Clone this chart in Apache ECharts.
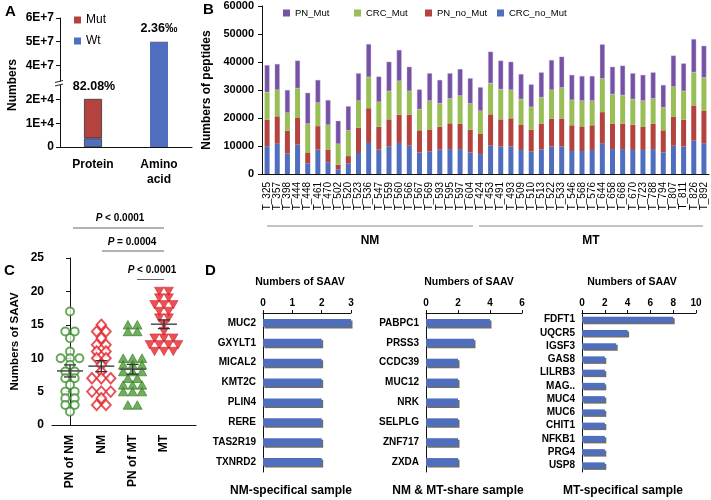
<!DOCTYPE html>
<html><head><meta charset="utf-8">
<script src="https://cdn.jsdelivr.net/npm/echarts@6/dist/echarts.min.js"></script>
<style>html,body{margin:0;padding:0;background:#fff}#c{width:711px;height:500px}</style>
</head><body><div id="c"></div>
<script>
// ---------- Panel A ----------
const aCategories = ['Protein', 'Amino\nacid'];
const aWt = [3640, 49880000];
const aMut = [16650, 118000];
const aTicksUpper = [40000000, 50000000, 60000000];
const aTicksLower = [0, 10000, 20000];
// ---------- Panel B ----------
const bSamples = ['T_325','T_357','T_398','T_444','T_448','T_461','T_470','T_502','T_520','T_523','T_536','T_547','T_559','T_560','T_566','T_567','T_569','T_593','T_595','T_597','T_604',
  'T_424','T_453','T_491','T_493','T_509','T_510','T_513','T_522','T_533','T_546','T_568','T_576','T_644','T_658','T_668','T_670','T_723','T_788','T_794','T_807','T_811','T_826','T_892'];
const bCRCnoMut = [9900,10800,7300,10500,3800,8700,4200,1700,3700,7500,11100,8700,9900,11100,10100,7700,8000,8700,8900,8900,7700,
  7100,10100,9800,9800,8600,8000,8800,9800,9800,8200,8200,8600,11000,8900,8900,8600,8600,8900,7700,10100,9800,11900,11000];
const bPNnoMut = [9500,9800,8200,9500,3700,8400,4400,1600,2700,9000,12400,8200,9600,10100,11100,7900,7900,8200,9200,9000,8100,
  7200,11200,9700,10100,8900,7800,9200,10000,10000,9200,8800,8800,11100,9100,9100,9000,8200,9100,7900,10300,9600,12400,11500];
const bCRCMut = [9800,9400,6300,10600,10400,8300,8900,7400,9100,9600,11100,8800,10100,12000,8400,7500,10200,8300,8800,10000,9300,
  8200,11100,10700,10100,9200,8100,9300,10200,11000,9000,9100,8700,11900,10500,10100,9100,9300,8900,8100,10700,10200,12000,11900];
const bPNMut = [9700,9300,8200,9900,11100,8200,8900,8300,8700,9900,11800,9100,10500,11100,8700,7100,9900,8400,9100,9600,9100,
  8500,11300,10300,10100,9000,8100,9000,10700,11100,9000,8900,8900,12300,9800,10600,9300,9300,9400,8100,11200,9900,11900,11400];
// ---------- Panel C ----------
const cGroups = ['PN of NM','NM','PN of MT','MT'];
const cPNofNM = [17,14,14,13,11,10,10,10,9,8,8,7,7,6,5,5,4,4,3,3,2];
const cNM = [15,14,14,13,12,12,11,11,10,10,9,8,7,7,7,5,5,5,4,3,3];
const cPNofMT = [15,15,14,14,10,10,10,9,9,9,8,8,8,7,7,6,6,6,5,5,5,3,3];
const cMT = [20,20,19,19,18,18,18,17,17,16,16,15,14,13,13,13,12,12,12,12,11,11,11];
// ---------- Panel D ----------
const d1Genes = ['MUC2','GXYLT1','MICAL2','KMT2C','PLIN4','RERE','TAS2R19','TXNRD2'];
const d1Values = [3,2,2,2,2,2,2,2];
const d2Genes = ['PABPC1','PRSS3','CCDC39','MUC12','NRK','SELPLG','ZNF717','ZXDA'];
const d2Values = [4,3,2,2,2,2,2,2];
const d3Genes = ['FDFT1','UQCR5','IGSF3','GAS8','LILRB3','MAG..','MUC4','MUC6','CHIT1','NFKB1','PRG4','USP8'];
const d3Values = [8,4,3,2,2,2,2,2,2,2,2,2];

const FF = '"Liberation Sans", Arial, sans-serif';
const BLUE = '#4F6EBE', RED = '#B4433F', GREEN = '#98BE55', PURPLE = '#7652A4';
const AX = {lineStyle:{color:'#111', width:1}};

function sciFmt(v){ if (v===0) return '0'; if (v>=1e7) return (v/1e7)+'E+7'; return (v/1e4)+'E+4'; }

function swarm(vals, gi){
  const cnt = {}, seen = {};
  vals.forEach(v => cnt[v] = (cnt[v]||0)+1);
  return vals.map(v => { const n = cnt[v]; const j = seen[v] = (seen[v]===undefined?0:seen[v]+1); return [gi + (j-(n-1)/2)*0.3, v]; });
}
function meanSem(vals){
  const n = vals.length, m = vals.reduce((a,b)=>a+b,0)/n;
  const sd = Math.sqrt(vals.reduce((a,b)=>a+(b-m)*(b-m),0)/(n-1));
  return [m, sd/Math.sqrt(n)];
}
const cAll = [cPNofNM, cNM, cPNofMT, cMT];
const cStats = cAll.map((v,i)=>{ const s = meanSem(v); return [i, s[0], s[1]]; });

function txt(text, x, y, size, opts){
  opts = opts || {};
  return {type:'text', z:100, x:x, y:y, rotation:opts.rotation||0,
    style:{text:text, x:0, y:0, font:(opts.weight||'bold')+' '+size+'px '+FF,
    fill:'#000', textAlign:opts.align||'center', textVerticalAlign:'middle', verticalAlign:'middle'}};
}
function ln(x1,y1,x2,y2,color,w){ return {type:'line', z:100, shape:{x1,y1,x2,y2}, style:{stroke:color||'#777', lineWidth:w||1}}; }
function ptxt(rest, x, y){
  return {type:'text', z:100, x:x, y:y, style:{text:'{i|P}'+rest, x:0, y:0, font:'bold 10px '+FF, fill:'#000', textAlign:'center', verticalAlign:'middle', textVerticalAlign:'middle',
    rich:{i:{fontStyle:'italic', fontWeight:'bold', fontSize:10, fontFamily:FF}}}};
}

const dAxisLabel = {fontSize:10, fontWeight:'bold', color:'#000', fontFamily:FF};
const legText = {fontSize:9.5, color:'#000', fontFamily:FF};
const legBase = {padding:0, itemWidth:7, itemHeight:7, icon:'rect', itemStyle:{borderWidth:0}, textStyle:legText};
const dBarStyle = {color:BLUE, shadowColor:'rgba(60,60,60,0.75)', shadowOffsetX:1.5, shadowOffsetY:1.5, shadowBlur:0};

const option = {
  animation:false,
  textStyle:{fontFamily:FF},
  legend:[
    {data:['Mut','Wt'], left:74, top:14, orient:'vertical', padding:0, itemWidth:7, itemHeight:7, itemGap:9, icon:'rect',
      itemStyle:{borderWidth:0}, textStyle:{fontSize:12, color:'#000', fontFamily:FF}},
    Object.assign({data:['PN_Mut'], left:283, top:8}, legBase),
    Object.assign({data:['CRC_Mut'], left:354, top:8}, legBase),
    Object.assign({data:['PN_no_Mut'], left:425, top:8}, legBase),
    Object.assign({data:['CRC_no_Mut'], left:497, top:8}, legBase)
  ],
  grid:[
    {left:60, top:18, width:132, height:66},
    {left:60, top:84, width:132, height:63},
    {left:262, top:6, width:447, height:168},
    {left:52, top:258, width:144, height:167},
    {left:263, top:313, width:88, height:159},
    {left:426, top:313, width:96, height:159},
    {left:582, top:313, width:114, height:159}
  ],
  xAxis:[
    {type:'category', gridIndex:0, data:aCategories, show:false},
    {type:'category', gridIndex:1, data:aCategories, axisLine:AX, axisTick:{show:false},
      axisLabel:{fontSize:12, fontWeight:'bold', color:'#000', margin:10, lineHeight:15}},
    {type:'category', gridIndex:2, data:bSamples, axisLine:AX, axisTick:{lineStyle:{color:'#111'}, length:3},
      axisLabel:{rotate:90, interval:0, fontSize:10, color:'#000', margin:8}},
    {type:'value', gridIndex:3, min:-0.575, max:4.025, axisLine:Object.assign({show:true},AX), axisTick:{show:false}, splitLine:{show:false},
      axisLabel:{customValues:[0,1,2,3], formatter:v=>cGroups[Math.round(v)], rotate:90, fontSize:12, fontWeight:'bold', color:'#000', margin:10}},
    {type:'value', gridIndex:4, position:'top', min:0, max:3, interval:1, axisLine:Object.assign({show:true},AX), axisTick:{show:true,length:3,lineStyle:{color:'#111'}}, splitLine:{show:false}, axisLabel:Object.assign({margin:5},dAxisLabel)},
    {type:'value', gridIndex:5, position:'top', min:0, max:6, interval:2, axisLine:Object.assign({show:true},AX), axisTick:{show:true,length:3,lineStyle:{color:'#111'}}, splitLine:{show:false}, axisLabel:Object.assign({margin:5},dAxisLabel)},
    {type:'value', gridIndex:6, position:'top', min:0, max:10, interval:2, axisLine:Object.assign({show:true},AX), axisTick:{show:true,length:3,lineStyle:{color:'#111'}}, splitLine:{show:false}, axisLabel:Object.assign({margin:5},dAxisLabel)}
  ],
  yAxis:[
    {type:'value', gridIndex:0, min:32150000, max:60000000, axisLine:Object.assign({show:true},AX), splitLine:{show:false},
      axisTick:{show:true, length:4, customValues:aTicksUpper, lineStyle:{color:'#111'}},
      axisLabel:{customValues:aTicksUpper, formatter:sciFmt, fontSize:12, fontWeight:'bold', color:'#000', margin:6}},
    {type:'value', gridIndex:1, min:0, max:26582, axisLine:Object.assign({show:true},AX), splitLine:{show:false},
      axisTick:{show:true, length:4, customValues:aTicksLower, lineStyle:{color:'#111'}},
      axisLabel:{customValues:aTicksLower, formatter:sciFmt, fontSize:12, fontWeight:'bold', color:'#000', margin:6}},
    {type:'value', gridIndex:2, min:0, max:60000, interval:10000, axisLine:Object.assign({show:true},AX), splitLine:{show:false},
      axisTick:{show:true, length:4, lineStyle:{color:'#111'}},
      axisLabel:{fontSize:11, fontWeight:'bold', color:'#000', margin:8, formatter:v=>String(v)},
      name:'Numbers of peptides', nameLocation:'middle', nameGap:41, nameTextStyle:{fontSize:12, fontWeight:'bold', color:'#000'}},
    {type:'value', gridIndex:3, min:0, max:25, interval:5, axisLine:Object.assign({show:true},AX), splitLine:{show:false},
      axisTick:{show:true, length:4, lineStyle:{color:'#111'}},
      axisLabel:{fontSize:12, fontWeight:'bold', color:'#000', margin:8},
      name:'Numbers of SAAV', nameLocation:'middle', nameGap:31, nameTextStyle:{fontSize:11.5, fontWeight:'bold', color:'#000'}},
    {type:'category', gridIndex:4, data:d1Genes, inverse:true, axisLine:AX, axisTick:{length:3,lineStyle:{color:'#111'}}, axisLabel:Object.assign({margin:7},dAxisLabel)},
    {type:'category', gridIndex:5, data:d2Genes, inverse:true, axisLine:AX, axisTick:{length:3,lineStyle:{color:'#111'}}, axisLabel:Object.assign({margin:7},dAxisLabel)},
    {type:'category', gridIndex:6, data:d3Genes, inverse:true, axisLine:AX, axisTick:{length:3,lineStyle:{color:'#111'}}, axisLabel:Object.assign({margin:7},dAxisLabel)}
  ],
  series:[
    {type:'bar', name:'Wt', xAxisIndex:0, yAxisIndex:0, stack:'au', data:aWt, barWidth:18, itemStyle:{color:BLUE}},
    {type:'bar', name:'Mut', xAxisIndex:0, yAxisIndex:0, stack:'au', data:aMut, barWidth:18, itemStyle:{color:RED}},
    {type:'bar', name:'Wt', xAxisIndex:1, yAxisIndex:1, stack:'al', barWidth:18,
      data:aWt.map((v,i)=>({value:v, itemStyle:{color:BLUE, borderColor:i===0?'#333':BLUE, borderWidth:i===0?0.8:0}}))},
    {type:'bar', name:'Mut', xAxisIndex:1, yAxisIndex:1, stack:'al', barWidth:18,
      data:aMut.map((v,i)=>({value:v, itemStyle:{color:RED, borderColor:'#333', borderWidth:i===0?0.8:0}}))},
    {type:'bar', name:'CRC_no_Mut', xAxisIndex:2, yAxisIndex:2, stack:'b', barWidth:5, data:bCRCnoMut, itemStyle:{color:BLUE}},
    {type:'bar', name:'PN_no_Mut', xAxisIndex:2, yAxisIndex:2, stack:'b', barWidth:5, data:bPNnoMut, itemStyle:{color:RED}},
    {type:'bar', name:'CRC_Mut', xAxisIndex:2, yAxisIndex:2, stack:'b', barWidth:5, data:bCRCMut, itemStyle:{color:GREEN}},
    {type:'bar', name:'PN_Mut', xAxisIndex:2, yAxisIndex:2, stack:'b', barWidth:5, data:bPNMut, itemStyle:{color:PURPLE, borderColor:'#c9b8e6', borderWidth:0.4}},
    {type:'scatter', xAxisIndex:3, yAxisIndex:3, data:swarm(cPNofNM,0), symbol:'circle', symbolSize:8,
      itemStyle:{color:'#fff', borderColor:'#3E8E2E', borderWidth:1.9}},
    {type:'scatter', xAxisIndex:3, yAxisIndex:3, data:swarm(cNM,1), symbol:'diamond', symbolSize:[9.5,10.5],
      itemStyle:{color:'#fff', borderColor:'#E2232B', borderWidth:1.9}},
    {type:'scatter', xAxisIndex:3, yAxisIndex:3, data:swarm(cPNofMT,2), symbol:'triangle', symbolSize:[9.5,8.5],
      itemStyle:{color:'#4C9A34', borderColor:'#2E7A20', borderWidth:0.8}},
    {type:'scatter', xAxisIndex:3, yAxisIndex:3, data:swarm(cMT,3), symbol:'triangle', symbolRotate:180, symbolSize:[9.5,8.5],
      itemStyle:{color:'#E8232B', borderColor:'#c01a20', borderWidth:0.6}},
    {type:'custom', xAxisIndex:3, yAxisIndex:3, data:cStats, z:10,
      renderItem:function(params, api){
        const x = api.value(0), m = api.value(1), s = api.value(2);
        const c = api.coord([x,m]), t = api.coord([x,m+s]), b = api.coord([x,m-s]);
        const st = {stroke:'#333', lineWidth:1.3};
        return {type:'group', children:[
          {type:'line', shape:{x1:c[0]-13,y1:c[1],x2:c[0]+13,y2:c[1]}, style:{stroke:'#555', lineWidth:1.6}},
          {type:'line', shape:{x1:c[0],y1:t[1],x2:c[0],y2:b[1]}, style:st},
          {type:'line', shape:{x1:c[0]-6,y1:t[1],x2:c[0]+6,y2:t[1]}, style:st},
          {type:'line', shape:{x1:c[0]-6,y1:b[1],x2:c[0]+6,y2:b[1]}, style:st}
        ]};
      }},
    {type:'bar', xAxisIndex:4, yAxisIndex:4, data:d1Values, barWidth:8, itemStyle:dBarStyle},
    {type:'bar', xAxisIndex:5, yAxisIndex:5, data:d2Values, barWidth:8, itemStyle:dBarStyle},
    {type:'bar', xAxisIndex:6, yAxisIndex:6, data:d3Values, barWidth:6, itemStyle:dBarStyle}
  ],
  graphic:[
    txt('A', 5, 12, 15, {align:'left'}),
    txt('B', 203, 10, 15, {align:'left'}),
    txt('C', 4, 271, 15, {align:'left'}),
    txt('D', 205, 271, 15, {align:'left'}),
    txt('Numbers', 13, 85, 12, {rotation:Math.PI/2}),
    txt('82.08%', 94, 87, 12.5),
    txt('2.36\u2030', 159, 29, 12.5),
    {type:'rect', z:99, shape:{x:54, y:81.5, width:11, height:3.5}, style:{fill:'#fff'}},
    ln(55, 82.5, 63, 80.5, '#222', 1),
    ln(55, 86, 63, 84, '#222', 1),
    ln(267, 226, 473, 226, '#888', 1),
    ln(479, 226, 703, 226, '#888', 1),
    txt('NM', 370, 241, 12),
    txt('MT', 591, 241, 12),
    ptxt(' < 0.0001', 120, 218),
    ln(73, 228, 164, 228, '#666', 1),
    ptxt(' = 0.0004', 132, 242),
    ln(102, 251, 164, 251, '#666', 1),
    ptxt(' < 0.0001', 152, 270),
    ln(137, 279.5, 164, 279.5, '#666', 1),
    txt('Numbers of SAAV', 300, 282, 10.5),
    txt('Numbers of SAAV', 469, 282, 10.5),
    txt('Numbers of SAAV', 632, 282, 10.5),
    txt('NM-specifical sample', 291, 491, 12),
    txt('NM & MT-share sample', 458, 491, 12),
    txt('MT-specifical sample', 623, 491, 12)
  ]
};
const chart = echarts.init(document.getElementById('c'), null, {renderer:'canvas'});
chart.setOption(option);
</script></body></html>
